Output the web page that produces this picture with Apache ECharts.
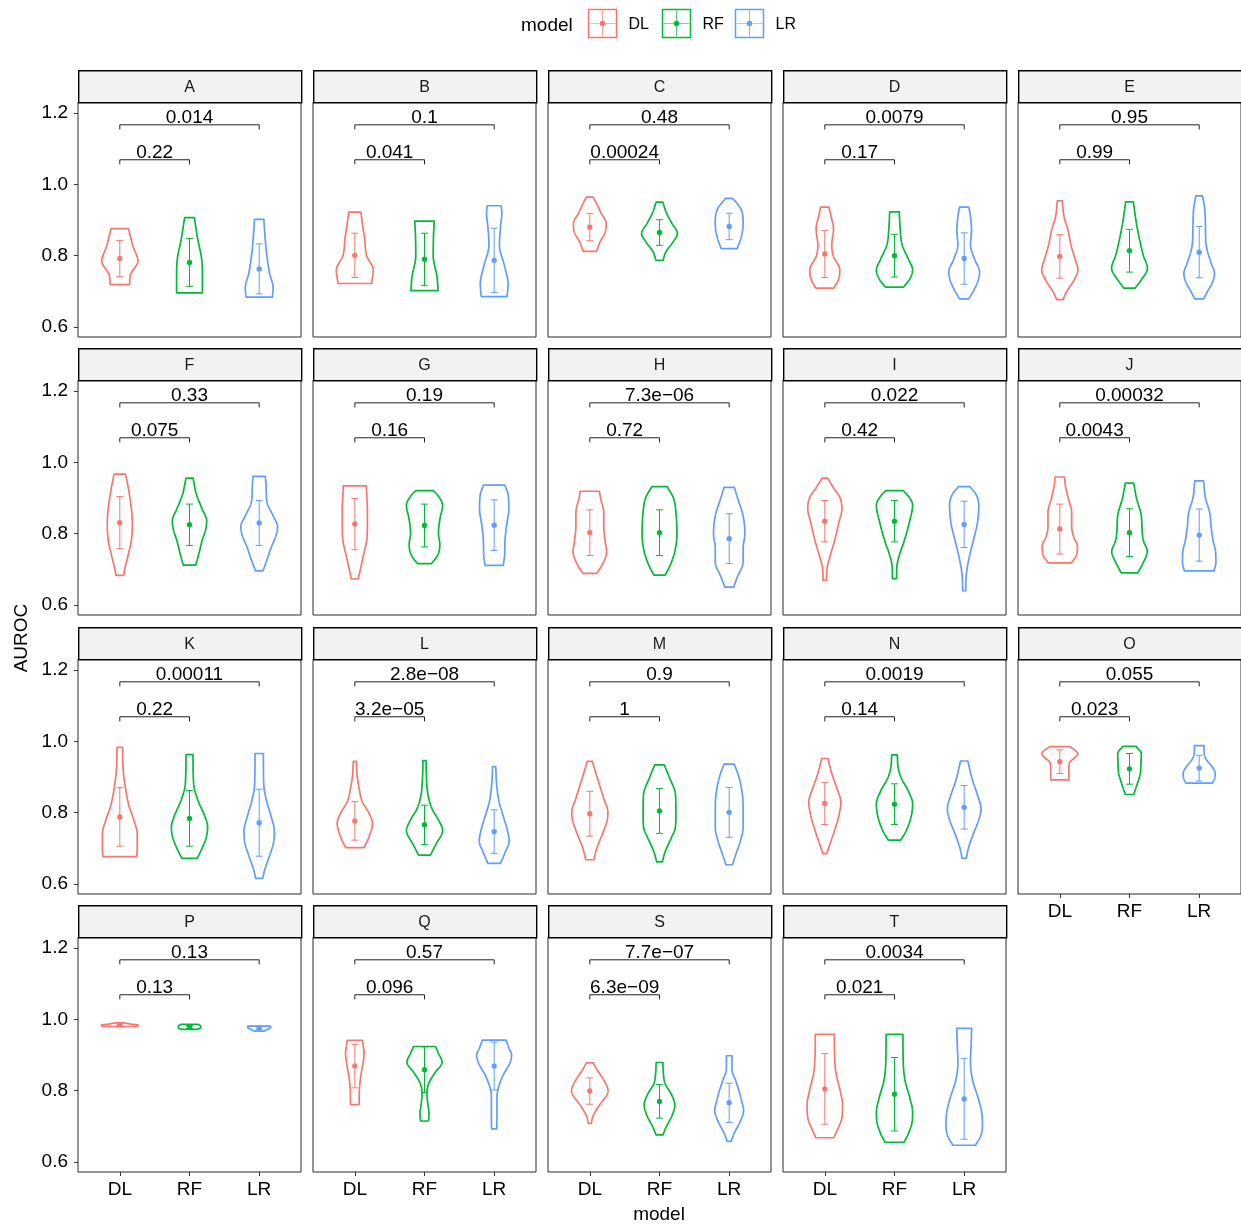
<!DOCTYPE html>
<html><head><meta charset="utf-8">
<script src="https://cdn.jsdelivr.net/npm/echarts@6/dist/echarts.min.js"></script>
<style>html,body{margin:0;padding:0;background:#fff}#c{width:1241px;height:1226px}</style>
</head><body><div id="c"></div><script>
// ---------------- DATA ----------------
const panels = ['A','B','C','D','E','F','G','H','I','J','K','L','M','N','O','P','Q','S','T'];
const models = ['DL','RF','LR'];
const modelColors = ['#F8766D','#00BA38','#619CFF'];
const yTicks = [0.6, 0.8, 1.0, 1.2];

const meanDL = [0.792,0.801,0.880,0.805,0.798,0.831,0.827,0.803,0.835,0.813,0.788,0.777,0.797,0.826,0.943,0.986,0.869,0.799,0.805];
const meanRF = [0.781,0.790,0.865,0.800,0.814,0.825,0.823,0.803,0.835,0.803,0.784,0.766,0.805,0.824,0.923,0.979,0.859,0.770,0.790];
const meanLR = [0.763,0.787,0.882,0.792,0.810,0.830,0.824,0.786,0.826,0.796,0.772,0.747,0.801,0.815,0.925,0.976,0.869,0.766,0.777];
const sdDL = [0.051,0.062,0.038,0.066,0.061,0.073,0.072,0.064,0.058,0.070,0.082,0.054,0.063,0.059,0.033,0.003,0.061,0.037,0.099];
const sdRF = [0.067,0.073,0.036,0.060,0.060,0.058,0.060,0.064,0.058,0.067,0.078,0.055,0.063,0.057,0.043,0.004,0.064,0.047,0.103];
const sdLR = [0.070,0.090,0.037,0.072,0.072,0.063,0.071,0.070,0.065,0.073,0.094,0.061,0.070,0.061,0.036,0.004,0.067,0.055,0.113];

// violin outlines: [AUROC value, half width in category units]
const violinDL = [
 [[0.719,0.14],[0.745,0.15],[0.785,0.26],[0.826,0.19],[0.876,0.125]],
 [[0.722,0.24],[0.76,0.265],[0.80,0.17],[0.85,0.14],[0.895,0.105],[0.922,0.088]],
 [[0.812,0.095],[0.84,0.15],[0.865,0.22],[0.89,0.235],[0.92,0.16],[0.945,0.1],[0.964,0.05]],
 [[0.709,0.13],[0.735,0.2],[0.76,0.215],[0.80,0.12],[0.83,0.1],[0.875,0.125],[0.91,0.09],[0.936,0.06]],
 [[0.677,0.045],[0.70,0.1],[0.73,0.2],[0.76,0.26],[0.79,0.22],[0.83,0.16],[0.87,0.12],[0.91,0.06],[0.954,0.036]],
 [[0.683,0.055],[0.70,0.07],[0.74,0.12],[0.78,0.165],[0.83,0.18],[0.88,0.16],[0.93,0.12],[0.967,0.082]],
 [[0.673,0.05],[0.70,0.08],[0.74,0.125],[0.78,0.17],[0.82,0.18],[0.87,0.18],[0.91,0.17],[0.934,0.165]],
 [[0.689,0.1],[0.71,0.17],[0.75,0.24],[0.78,0.22],[0.82,0.2],[0.86,0.2],[0.895,0.16],[0.919,0.137]],
 [[0.669,0.025],[0.70,0.03],[0.74,0.08],[0.78,0.14],[0.83,0.2],[0.87,0.245],[0.90,0.22],[0.93,0.12],[0.956,0.04]],
 [[0.718,0.165],[0.74,0.24],[0.765,0.253],[0.79,0.2],[0.82,0.17],[0.86,0.17],[0.90,0.12],[0.935,0.08],[0.959,0.069]],
 [[0.677,0.242],[0.70,0.25],[0.74,0.25],[0.78,0.2],[0.82,0.13],[0.87,0.08],[0.93,0.045],[0.983,0.04]],
 [[0.702,0.132],[0.73,0.2],[0.77,0.253],[0.80,0.2],[0.83,0.11],[0.87,0.06],[0.91,0.03],[0.944,0.022]],
 [[0.668,0.058],[0.70,0.1],[0.74,0.18],[0.78,0.25],[0.80,0.26],[0.84,0.2],[0.89,0.12],[0.944,0.036]],
 [[0.685,0.027],[0.71,0.07],[0.75,0.14],[0.79,0.2],[0.83,0.23],[0.87,0.17],[0.91,0.1],[0.952,0.044]],
 [[0.892,0.13],[0.92,0.13],[0.94,0.14],[0.955,0.22],[0.965,0.258],[0.975,0.22],[0.985,0.143]],
 [[0.980,0.25],[0.984,0.263],[0.987,0.15],[0.990,0.07]],
 [[0.761,0.062],[0.80,0.065],[0.84,0.085],[0.88,0.12],[0.905,0.133],[0.925,0.12],[0.941,0.108]],
 [[0.708,0.02],[0.73,0.05],[0.76,0.14],[0.79,0.25],[0.80,0.262],[0.83,0.2],[0.86,0.1],[0.878,0.05]],
 [[0.668,0.13],[0.69,0.18],[0.72,0.24],[0.76,0.255],[0.80,0.22],[0.85,0.16],[0.90,0.14],[0.958,0.136]]
];
const violinRF = [
 [[0.696,0.185],[0.74,0.185],[0.79,0.175],[0.85,0.115],[0.907,0.07]],
 [[0.702,0.195],[0.74,0.18],[0.80,0.125],[0.86,0.13],[0.897,0.14]],
 [[0.787,0.05],[0.81,0.09],[0.84,0.2],[0.862,0.257],[0.89,0.18],[0.92,0.1],[0.95,0.048]],
 [[0.712,0.13],[0.735,0.22],[0.76,0.26],[0.79,0.2],[0.83,0.11],[0.88,0.08],[0.923,0.069]],
 [[0.709,0.08],[0.73,0.16],[0.765,0.257],[0.80,0.2],[0.84,0.15],[0.89,0.1],[0.951,0.055]],
 [[0.712,0.09],[0.74,0.13],[0.78,0.18],[0.81,0.23],[0.836,0.247],[0.87,0.18],[0.91,0.1],[0.956,0.05]],
 [[0.716,0.1],[0.74,0.19],[0.77,0.22],[0.80,0.2],[0.84,0.22],[0.88,0.26],[0.905,0.2],[0.921,0.124]],
 [[0.684,0.082],[0.71,0.15],[0.75,0.22],[0.80,0.25],[0.85,0.24],[0.90,0.2],[0.932,0.11]],
 [[0.674,0.03],[0.71,0.035],[0.74,0.07],[0.78,0.14],[0.83,0.21],[0.88,0.26],[0.905,0.2],[0.921,0.124]],
 [[0.690,0.118],[0.72,0.2],[0.75,0.255],[0.78,0.2],[0.81,0.18],[0.85,0.17],[0.90,0.1],[0.942,0.06]],
 [[0.672,0.11],[0.70,0.18],[0.73,0.24],[0.76,0.26],[0.79,0.22],[0.83,0.13],[0.88,0.06],[0.963,0.05]],
 [[0.681,0.085],[0.71,0.16],[0.75,0.26],[0.78,0.2],[0.81,0.11],[0.85,0.05],[0.90,0.028],[0.946,0.022]],
 [[0.662,0.04],[0.69,0.08],[0.73,0.17],[0.76,0.23],[0.80,0.235],[0.85,0.23],[0.90,0.14],[0.934,0.069]],
 [[0.723,0.09],[0.75,0.17],[0.79,0.24],[0.825,0.26],[0.86,0.2],[0.90,0.09],[0.93,0.05],[0.962,0.041]],
 [[0.851,0.06],[0.88,0.11],[0.91,0.155],[0.94,0.165],[0.965,0.17],[0.986,0.096]],
 [[0.972,0.11],[0.976,0.16],[0.981,0.16],[0.986,0.127]],
 [[0.715,0.057],[0.735,0.065],[0.76,0.05],[0.79,0.035],[0.82,0.06],[0.85,0.15],[0.88,0.252],[0.905,0.2],[0.924,0.156]],
 [[0.676,0.048],[0.70,0.1],[0.73,0.18],[0.76,0.22],[0.79,0.17],[0.82,0.08],[0.85,0.055],[0.879,0.048]],
 [[0.655,0.136],[0.68,0.2],[0.71,0.25],[0.74,0.26],[0.78,0.22],[0.83,0.15],[0.88,0.125],[0.958,0.121]]
];
const violinLR = [
 [[0.684,0.19],[0.71,0.2],[0.75,0.15],[0.80,0.11],[0.85,0.085],[0.902,0.067]],
 [[0.685,0.185],[0.72,0.2],[0.77,0.15],[0.83,0.075],[0.88,0.09],[0.92,0.11],[0.94,0.1]],
 [[0.82,0.115],[0.85,0.17],[0.89,0.2],[0.925,0.18],[0.945,0.12],[0.961,0.048]],
 [[0.679,0.067],[0.70,0.13],[0.73,0.2],[0.755,0.22],[0.79,0.15],[0.83,0.09],[0.87,0.105],[0.91,0.09],[0.936,0.067]],
 [[0.679,0.064],[0.70,0.12],[0.725,0.19],[0.75,0.22],[0.78,0.17],[0.83,0.1],[0.88,0.09],[0.93,0.08],[0.968,0.048]],
 [[0.696,0.055],[0.72,0.1],[0.76,0.17],[0.80,0.25],[0.82,0.263],[0.85,0.2],[0.89,0.11],[0.93,0.1],[0.961,0.088]],
 [[0.711,0.13],[0.74,0.15],[0.78,0.155],[0.82,0.175],[0.87,0.21],[0.91,0.2],[0.936,0.154]],
 [[0.650,0.063],[0.68,0.12],[0.72,0.2],[0.76,0.2],[0.80,0.225],[0.85,0.2],[0.90,0.12],[0.930,0.074]],
 [[0.640,0.022],[0.67,0.025],[0.70,0.04],[0.74,0.08],[0.78,0.13],[0.83,0.19],[0.88,0.21],[0.91,0.17],[0.932,0.082]],
 [[0.696,0.214],[0.72,0.24],[0.75,0.235],[0.78,0.2],[0.82,0.17],[0.86,0.15],[0.90,0.09],[0.948,0.063]],
 [[0.616,0.05],[0.64,0.08],[0.68,0.15],[0.72,0.21],[0.75,0.217],[0.79,0.17],[0.83,0.11],[0.88,0.065],[0.966,0.06]],
 [[0.658,0.09],[0.69,0.16],[0.72,0.214],[0.75,0.19],[0.79,0.13],[0.83,0.07],[0.88,0.035],[0.929,0.022]],
 [[0.654,0.047],[0.68,0.09],[0.72,0.16],[0.76,0.2],[0.80,0.2],[0.85,0.19],[0.90,0.14],[0.936,0.074]],
 [[0.672,0.03],[0.70,0.06],[0.74,0.13],[0.78,0.21],[0.81,0.242],[0.85,0.19],[0.89,0.12],[0.945,0.052]],
 [[0.883,0.19],[0.895,0.22],[0.91,0.23],[0.93,0.18],[0.95,0.1],[0.97,0.07],[0.988,0.069]],
 [[0.967,0.07],[0.972,0.12],[0.977,0.164],[0.981,0.164]],
 [[0.693,0.037],[0.73,0.04],[0.77,0.04],[0.80,0.05],[0.84,0.12],[0.88,0.23],[0.90,0.25],[0.92,0.21],[0.942,0.17]],
 [[0.658,0.03],[0.68,0.07],[0.71,0.15],[0.745,0.207],[0.77,0.18],[0.80,0.14],[0.83,0.09],[0.86,0.04],[0.898,0.04]],
 [[0.647,0.16],[0.67,0.23],[0.70,0.262],[0.74,0.25],[0.78,0.2],[0.83,0.12],[0.88,0.09],[0.93,0.1],[0.975,0.107]]
];

const pDLvsRF = ['0.22','0.041','0.00024','0.17','0.99','0.075','0.16','0.72','0.42','0.0043','0.22','3.2e\u221205','1','0.14','0.023','0.13','0.096','6.3e\u221209','0.021'];
const pDLvsLR = ['0.014','0.1','0.48','0.0079','0.95','0.33','0.19','7.3e\u221206','0.022','0.00032','0.00011','2.8e\u221208','0.9','0.0019','0.055','0.13','0.57','7.7e\u221207','0.0034'];
const bracketY = [1.069, 1.167];

// ---------------- LAYOUT ----------------
const FONT = "'Liberation Sans', Arial, Helvetica, sans-serif";
const colLeft = [78, 313, 548, 783, 1018];
const rowTop = [102, 380, 659, 937];
const panelW = 223, panelH = 235, stripH = 32;
const yMin = 0.572, yMax = 1.231;

const means = [meanDL, meanRF, meanLR];
const sds = [sdDL, sdRF, sdLR];
const violins = [violinDL, violinRF, violinLR];

function monotone(knots, perSeg) {
  const n = knots.length, xs = knots.map(k => k[0]), ys = knots.map(k => k[1]);
  if (n < 3) return knots.slice();
  const d = [], m = new Array(n);
  for (let i = 0; i < n - 1; i++) d.push((ys[i+1] - ys[i]) / (xs[i+1] - xs[i]));
  m[0] = d[0]; m[n-1] = d[n-2];
  for (let i = 1; i < n - 1; i++) m[i] = d[i-1] * d[i] <= 0 ? 0 : (d[i-1] + d[i]) / 2;
  for (let i = 0; i < n - 1; i++) {
    if (d[i] === 0) { m[i] = 0; m[i+1] = 0; continue; }
    const a = m[i] / d[i], b = m[i+1] / d[i], s = a*a + b*b;
    if (s > 9) { const t = 3 / Math.sqrt(s); m[i] = t*a*d[i]; m[i+1] = t*b*d[i]; }
  }
  const out = [];
  for (let i = 0; i < n - 1; i++) {
    const h = xs[i+1] - xs[i];
    for (let j = 0; j < perSeg; j++) {
      const t = j / perSeg, t2 = t*t, t3 = t2*t;
      out.push([xs[i] + t*h, (2*t3-3*t2+1)*ys[i] + (t3-2*t2+t)*h*m[i] + (-2*t3+3*t2)*ys[i+1] + (t3-t2)*h*m[i+1]]);
    }
  }
  out.push([xs[n-1], ys[n-1]]);
  return out;
}

const grids = [], xAxes = [], yAxes = [], series = [], graphics = [];

panels.forEach((name, i) => {
  const row = Math.floor(i / 5), col = i % 5;
  const isBottom = row === 3 || (row === 2 && col === 4);
  const isLeft = col === 0;
  const left = colLeft[col], top = rowTop[row];
  grids.push({left: left, top: top, width: panelW, height: panelH, show: true,
    borderColor: '#2b2b2b', borderWidth: 1, backgroundColor: '#fff'});
  xAxes.push({gridIndex: i, type: 'value', min: 0.4, max: 3.6,
    axisLine: {show: false}, splitLine: {show: false},
    axisTick: {show: isBottom, customValues: [1,2,3], length: 4, lineStyle: {color: '#333'}},
    axisLabel: {show: isBottom, customValues: [1,2,3], formatter: v => models[Math.round(v) - 1],
      fontSize: 19, color: '#000', fontFamily: FONT, margin: 8}});
  yAxes.push({gridIndex: i, type: 'value', min: yMin, max: yMax,
    axisLine: {show: false}, splitLine: {show: false},
    axisTick: {show: isLeft, customValues: yTicks, length: 4, lineStyle: {color: '#333'}},
    axisLabel: {show: isLeft, customValues: yTicks, formatter: v => v.toFixed(1),
      fontSize: 19, color: '#000', fontFamily: FONT, margin: 10}});

  // violins + mean ± sd
  series.push({
    type: 'custom', xAxisIndex: i, yAxisIndex: i, silent: true,
    data: models.map((m, k) => [k + 1, means[k][i], sds[k][i]]),
    renderItem: (params, api) => {
      const k = params.dataIndex;
      const x = api.value(0), mu = api.value(1), sd = api.value(2);
      const color = modelColors[k];
      const prof = monotone(violins[k][i], 10);
      const pts = [];
      prof.forEach(p => pts.push(api.coord([x - p[1], p[0]])));
      for (let j = prof.length - 1; j >= 0; j--) pts.push(api.coord([x + prof[j][1], prof[j][0]]));
      const c = api.coord([x, mu]);
      const lo = api.coord([x, mu - sd]), hi = api.coord([x, mu + sd]);
      const capL = api.coord([x - 0.05, mu])[0], capR = api.coord([x + 0.05, mu])[0];
      return {type: 'group', children: [
        {type: 'polygon', shape: {points: pts}, style: {fill: 'none', stroke: color, lineWidth: 1.7, lineJoin: 'round'}},
        {type: 'line', shape: {x1: c[0], y1: lo[1], x2: c[0], y2: hi[1]}, style: {stroke: color, lineWidth: 1}},
        {type: 'line', shape: {x1: capL, y1: lo[1], x2: capR, y2: lo[1]}, style: {stroke: color, lineWidth: 1}},
        {type: 'line', shape: {x1: capL, y1: hi[1], x2: capR, y2: hi[1]}, style: {stroke: color, lineWidth: 1}},
        {type: 'circle', shape: {cx: c[0], cy: c[1], r: 2.7}, style: {fill: color}}
      ]};
    }
  });

  // p-value brackets
  series.push({
    type: 'custom', xAxisIndex: i, yAxisIndex: i, silent: true,
    data: [[1, 2, bracketY[0], pDLvsRF[i]], [1, 3, bracketY[1], pDLvsLR[i]]],
    renderItem: (params, api) => {
      const d = params.dataIndex === 0 ? [1, 2, bracketY[0], pDLvsRF[i]] : [1, 3, bracketY[1], pDLvsLR[i]];
      const p1 = api.coord([d[0], d[2]]), p2 = api.coord([d[1], d[2]]);
      const tk = api.coord([d[0], d[2] - 0.013])[1] - p1[1];
      return {type: 'group', children: [
        {type: 'polyline', shape: {points: [[p1[0], p1[1] + tk], [p1[0], p1[1]], [p2[0], p2[1]], [p2[0], p2[1] + tk]]},
          style: {fill: 'none', stroke: '#222', lineWidth: 1}},
        {type: 'text', style: {text: d[3], x: (p1[0] + p2[0]) / 2, y: p1[1] + 2, align: 'center', verticalAlign: 'bottom',
          fontSize: 19, fontFamily: FONT, fill: '#000'}}
      ]};
    }
  });

  // facet strip
  graphics.push({type: 'rect', left: left, top: top - stripH, shape: {x: 0, y: 0, width: panelW, height: stripH},
    style: {fill: '#F2F2F2', stroke: '#000', lineWidth: 1.4}, z: 10});
  graphics.push({type: 'text', x: left + panelW / 2, y: top - stripH / 2 + 1.5,
    style: {text: name, align: 'center', verticalAlign: 'middle', fontSize: 16, fontFamily: FONT, fill: '#1a1a1a'}, z: 11});
});

// axis titles
graphics.push({type: 'text', x: 22, y: 638, rotation: Math.PI / 2,
  style: {text: 'AUROC', align: 'center', verticalAlign: 'middle', fontSize: 19, fontFamily: FONT, fill: '#000'}});
graphics.push({type: 'text', x: 659, y: 1215,
  style: {text: 'model', align: 'center', verticalAlign: 'middle', fontSize: 19, fontFamily: FONT, fill: '#000'}});

// legend
graphics.push({type: 'text', x: 521, y: 25.5,
  style: {text: 'model', align: 'left', verticalAlign: 'middle', fontSize: 19, fontFamily: FONT, fill: '#000'}});
const keyX = [588.5, 662.5, 735.5];
models.forEach((m, k) => {
  const bx = keyX[k], by = 9.5, s = 28, col = modelColors[k];
  graphics.push({type: 'rect', shape: {x: bx, y: by, width: s, height: s}, style: {fill: '#fff', stroke: col, lineWidth: 1.5}});
  graphics.push({type: 'line', shape: {x1: bx + s/2, y1: by + 1, x2: bx + s/2, y2: by + s - 1}, style: {stroke: col, lineWidth: 0.9, opacity: 0.8}});
  graphics.push({type: 'line', shape: {x1: bx + 1, y1: by + s/2, x2: bx + s - 1, y2: by + s/2}, style: {stroke: col, lineWidth: 0.9, opacity: 0.6}});
  graphics.push({type: 'circle', shape: {cx: bx + s/2, cy: by + s/2, r: 2.7}, style: {fill: col}});
  graphics.push({type: 'text', x: bx + s + 12, y: by + s/2 + 1,
    style: {text: m, align: 'left', verticalAlign: 'middle', fontSize: 16, fontFamily: FONT, fill: '#000'}});
});

const chart = echarts.init(document.getElementById('c'), null, {renderer: 'canvas'});
chart.setOption({
  animation: false,
  backgroundColor: '#fff',
  grid: grids, xAxis: xAxes, yAxis: yAxes, series: series, graphic: graphics
});
</script></body></html>
